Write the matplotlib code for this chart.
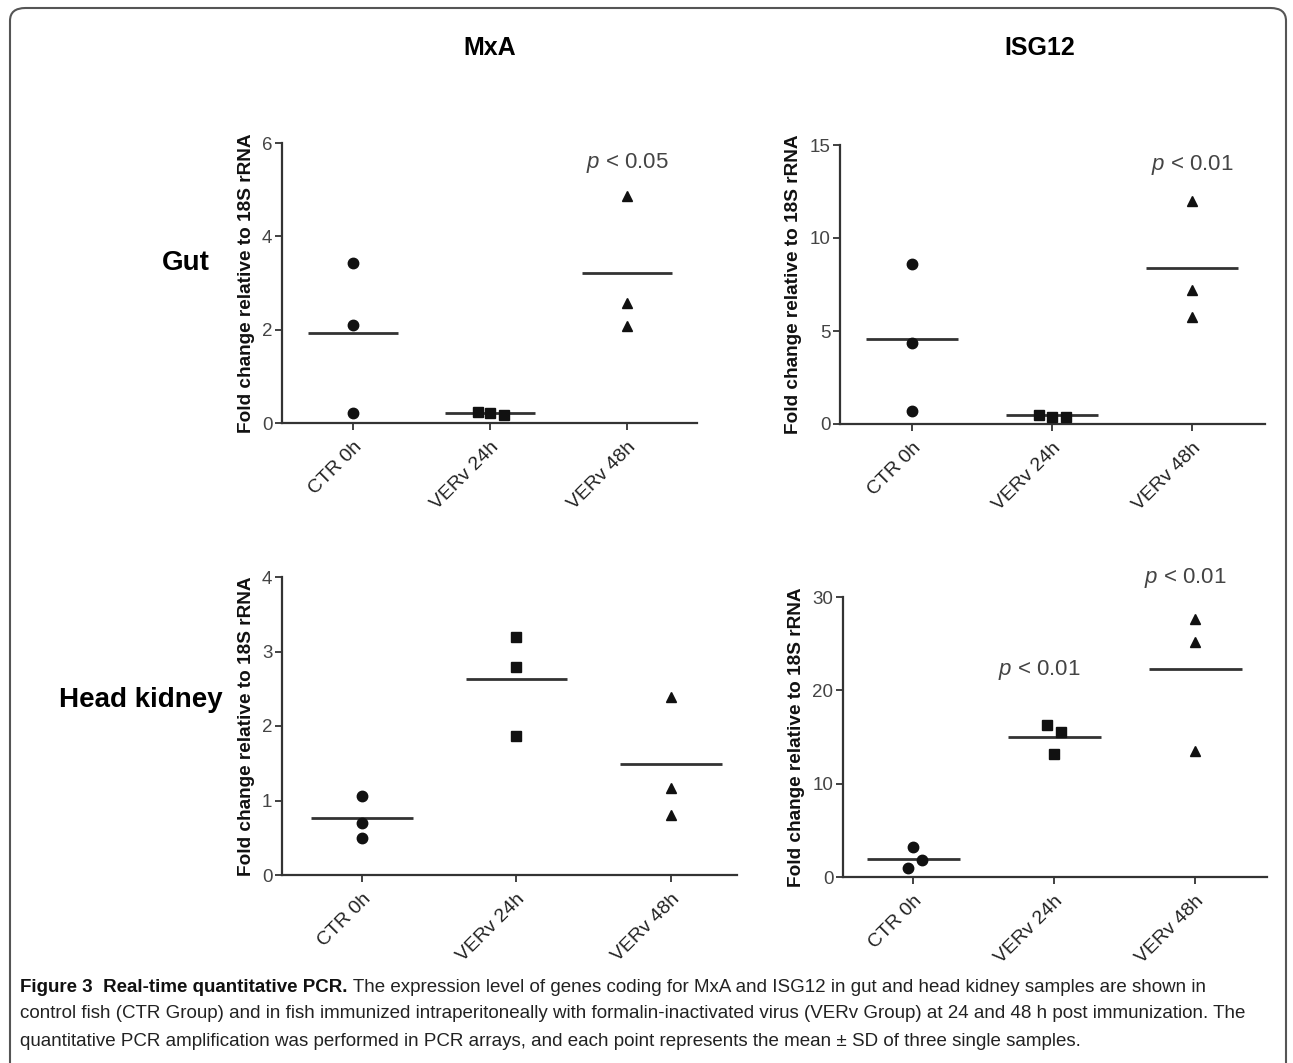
import numpy as np
import matplotlib
matplotlib.use('Agg')
import matplotlib.pyplot as plt
from matplotlib import font_manager
from matplotlib.patches import FancyBboxPatch

# fonts
names = {f.name for f in font_manager.fontManager.ttflist}
NARROW = 'Liberation Sans Narrow' if 'Liberation Sans Narrow' in names else 'Liberation Sans'
plt.rcParams['font.family'] = ['Liberation Sans', 'DejaVu Sans']
plt.rcParams['mathtext.fontset'] = 'custom'
plt.rcParams['mathtext.it'] = 'Liberation Sans:italic'
plt.rcParams['mathtext.rm'] = 'Liberation Sans'

# data
categories = ['CTR 0h', 'VERv 24h', 'VERv 48h']

mxa_gut = [[3.43, 2.10, 0.21], [0.24, 0.17, 0.21], [4.86, 2.57, 2.08]]
mxa_gut_mean = [1.93, 0.21, 3.21]

isg_gut = [[8.6, 4.35, 0.68], [0.5, 0.4, 0.4], [12.0, 7.2, 5.75]]
isg_gut_mean = [4.57, 0.5, 8.37]

mxa_hk = [[1.06, 0.70, 0.50], [3.19, 2.79, 1.87], [2.39, 1.17, 0.80]]
mxa_hk_mean = [0.77, 2.63, 1.49]

isg_hk = [[3.2, 1.8, 0.95], [16.3, 15.5, 13.2], [27.6, 25.2, 13.5]]
isg_hk_mean = [1.9, 15.0, 22.3]

mxa_gut_ticks = [0, 2, 4, 6]
isg_gut_ticks = [0, 5, 10, 15]
mxa_hk_ticks = [0, 1, 2, 3, 4]
isg_hk_ticks = [0, 10, 20, 30]

W, H = 1293, 1063
fig = plt.figure(figsize=(W / 100, H / 100), dpi=100)

# outer rounded frame (bottom edge runs off the image)
frame = FancyBboxPatch((10 / W, -20 / H), 1276 / W, 1075 / H,
                       boxstyle='round,pad=0,rounding_size=0.012',
                       transform=fig.transFigure, fill=False,
                       edgecolor='#555555', linewidth=1.5, clip_on=False)
fig.patches.append(frame)


def px_axes(x0, y0, x1, y1):
    # pixel box (top-left origin) -> figure fraction
    return [x0 / W, 1 - y1 / H, (x1 - x0) / W, (y1 - y0) / H]


markers = ['o', 's', '^']
ink = '#111111'
axcol = '#333333'


def panel(rect, values, means, ticks, xlim, jitter):
    ax = fig.add_axes(rect)
    for i, (vals, m) in enumerate(zip(values, means)):
        xs = [i + j for j in jitter[i]]
        ax.plot(xs, vals, linestyle='none', marker=markers[i], markersize=7.5,
                color=ink, clip_on=False, zorder=3)
        ax.hlines(m, i - 0.33, i + 0.33, color=axcol, linewidth=2.0, zorder=2)
    ax.set_xlim(*xlim)
    ax.set_ylim(ticks[0], ticks[-1])
    ax.set_yticks(ticks)
    ax.set_xticks(range(len(categories)))
    ax.set_xticklabels(categories, rotation=45, ha='right',
                       rotation_mode='anchor', fontsize=14, color='#222222')
    ax.tick_params(axis='y', labelsize=13.5, labelcolor='#444444',
                   length=5, width=1.3, color=axcol, pad=2)
    ax.tick_params(axis='x', length=5, width=1.3, color=axcol, pad=6)
    for s in ['top', 'right']:
        ax.spines[s].set_visible(False)
    for s in ['left', 'bottom']:
        ax.spines[s].set_color(axcol)
        ax.spines[s].set_linewidth(1.6)
    ax.set_ylabel('Fold change relative to 18S rRNA', fontsize=13.7,
                  fontweight='bold', color='#111111', labelpad=5)
    ax.patch.set_alpha(0)
    return ax


no_jit = [[0, 0, 0], [0, 0, 0], [0, 0, 0]]
ax1 = panel(px_axes(282, 143, 697, 423), mxa_gut, mxa_gut_mean, mxa_gut_ticks,
            (-0.52, 2.51), [[0, 0, 0], [-0.09, 0.1, 0.0], [0, 0, 0]])
ax2 = panel(px_axes(840, 145, 1265, 424), isg_gut, isg_gut_mean, isg_gut_ticks,
            (-0.514, 2.52), [[0, 0, 0], [-0.09, 0.0, 0.1], [0, 0, 0]])
ax3 = panel(px_axes(282, 577, 737, 875), mxa_hk, mxa_hk_mean, mxa_hk_ticks,
            (-0.52, 2.43), no_jit)
ax4 = panel(px_axes(843, 597, 1267, 877), isg_hk, isg_hk_mean, isg_hk_ticks,
            (-0.50, 2.51), [[0.0, 0.06, -0.04], [-0.05, 0.045, 0.0], [0, 0, 0]])

pcol = '#444444'
ax1.text(2, 5.57, '$p$ < 0.05', ha='center', va='center', fontsize=16, color=pcol)
ax2.text(2, 13.9, '$p$ < 0.01', ha='center', va='center', fontsize=16, color=pcol)
ax4.text(0.89, 22.2, '$p$ < 0.01', ha='center', va='center', fontsize=16,
         color=pcol, clip_on=False)
ax4.text(1.93, 32.0, '$p$ < 0.01', ha='center', va='center', fontsize=16,
         color=pcol, clip_on=False)

# column / row headings
fig.text(490 / W, 1 - 48 / H, 'MxA', ha='center', va='center', fontsize=18,
         fontweight='bold', family=NARROW)
fig.text(1040 / W, 1 - 48 / H, 'ISG12', ha='center', va='center', fontsize=18,
         fontweight='bold', family=NARROW)
fig.text(210 / W, 1 - 263 / H, 'Gut', ha='right', va='center', fontsize=20,
         fontweight='bold')
fig.text(223 / W, 1 - 700 / H, 'Head kidney', ha='right', va='center',
         fontsize=20, fontweight='bold')

# caption
cap_bold = 'Figure 3  Real-time quantitative PCR.'
cap_lines = [
    ' The expression level of genes coding for MxA and ISG12 in gut and head kidney samples are shown in',
    'control fish (CTR Group) and in fish immunized intraperitoneally with formalin-inactivated virus (VERv Group) at 24 and 48 h post immunization. The',
    'quantitative PCR amplification was performed in PCR arrays, and each point represents the mean \u00b1 SD of three single samples.',
]
cap_size = 15.8 if NARROW != 'Liberation Sans' else 13.5
cap_y = [988, 1014, 1041]
renderer = fig.canvas.get_renderer()
t0 = fig.text(20 / W, 1 - cap_y[0] / H, cap_bold, ha='left', va='center',
              fontsize=cap_size, fontweight='bold', family=NARROW, color='#111111')
bb = t0.get_window_extent(renderer=renderer)
fig.text(bb.x1 / W, 1 - cap_y[0] / H, cap_lines[0], ha='left', va='center',
         fontsize=cap_size, family=NARROW, color='#222222')
for line, y in zip(cap_lines[1:], cap_y[1:]):
    fig.text(20 / W, 1 - y / H, line, ha='left', va='center',
             fontsize=cap_size, family=NARROW, color='#222222')

fig.savefig('out.png', dpi=100)
